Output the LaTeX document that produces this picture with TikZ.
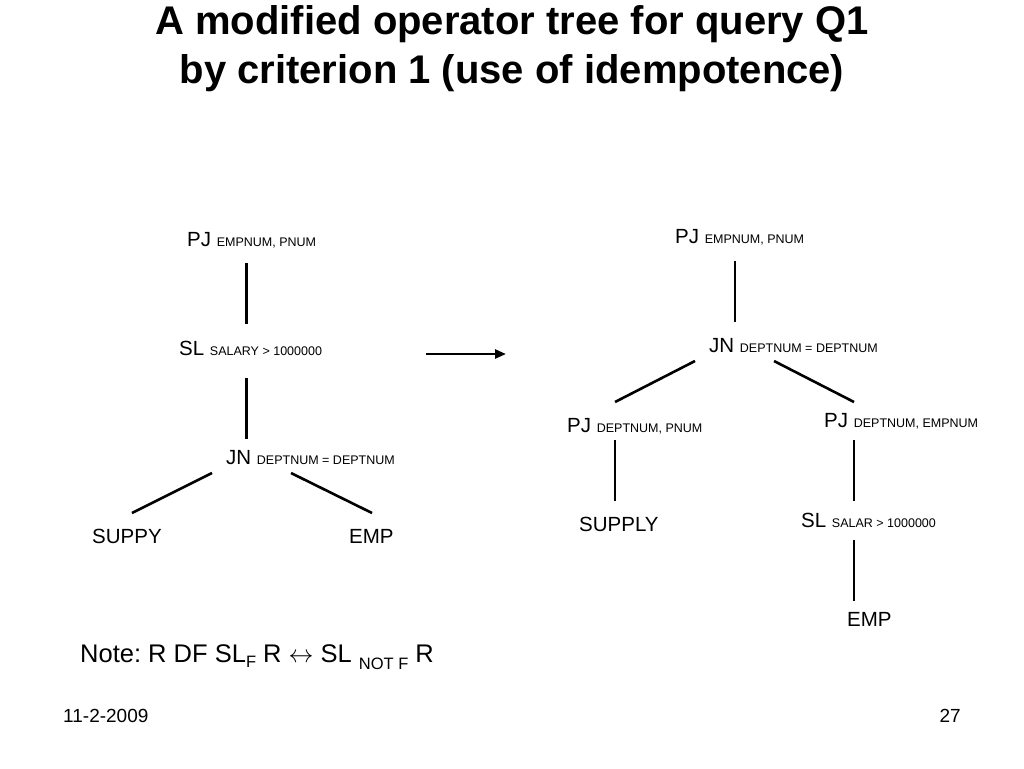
\documentclass[tikz,border=0pt]{standalone}
\usepackage{fontspec}
\setmainfont{Liberation Sans}
\usetikzlibrary{arrows.meta}
\newcommand{\myfs}[1]{\fontsize{#1}{#1}\selectfont}
\newcommand{\subt}[1]{{\myfs{12.5}#1}}
\frenchspacing
\begin{document}
\begin{tikzpicture}[x=1pt,y=-1pt,
  lbl/.style={anchor=base west,inner sep=0pt,font=\myfs{20.5}},
  ttl/.style={anchor=base,inner sep=0pt,font=\myfs{40}\bfseries},
  edge/.style={line width=2.6pt},
  foot/.style={inner sep=0pt,font=\myfs{19}}]
\useasboundingbox (0,0) rectangle (1024,768);
\fill[white] (0,0) rectangle (1024,768);
% title
\node[ttl] (t1) at (512,35) {A modified operator tree for query Q1};
\node[ttl] (t2) at (512,83) {by criterion 1 (use of idempotence)};
% left tree
\node[lbl] (pj1) at (187,246) {PJ \subt{EMPNUM, PNUM}};
\node[lbl] (sl1) at (179,355) {SL \subt{SALARY > 1000000}};
\node[lbl] (jn1) at (226,464) {JN \subt{DEPTNUM = DEPTNUM}};
\node[lbl] (sup1) at (92,543) {SUPPY};
\node[lbl] (emp1) at (349,543) {EMP};
\draw[edge] ([shift={(59.7,17)}]pj1.base west) -- ([shift={(67.7,-31)}]sl1.base west);
\draw[edge] ([shift={(67.7,23)}]sl1.base west) -- ([shift={(20.7,-25)}]jn1.base west);
\draw[edge] ([shift={(-14,9)}]jn1.base west) -- ([shift={(40,-30)}]sup1.base west);
\draw[edge] ([shift={(65,9)}]jn1.base west) -- ([shift={(23,-30)}]emp1.base west);
% arrow
\coordinate (arrowend) at (506,354);
\draw[line width=2.6pt,-{Triangle[length=11pt,width=9pt]}] ([shift={(247,-1)}]sl1.base west) -- (arrowend);
% right tree
\node[lbl] (pj2) at (675,243) {PJ \subt{EMPNUM, PNUM}};
\node[lbl] (jn2) at (709,352) {JN \subt{DEPTNUM = DEPTNUM}};
\node[lbl] (pj3) at (567,432) {PJ \subt{DEPTNUM, PNUM}};
\node[lbl] (pj4) at (824,427) {PJ \subt{DEPTNUM, EMPNUM}};
\node[lbl] (sup2) at (579,531) {SUPPLY};
\node[lbl] (sl2) at (801,527) {SL \subt{SALAR > 1000000}};
\node[lbl] (emp2) at (847,626) {EMP};
\draw[edge] ([shift={(60,18)}]pj2.base west) -- ([shift={(26,-30)}]jn2.base west);
\draw[edge] ([shift={(-14,9)}]jn2.base west) -- ([shift={(48,-30)}]pj3.base west);
\draw[edge] ([shift={(65,9)}]jn2.base west) -- ([shift={(30,-25)}]pj4.base west);
\draw[edge] ([shift={(48,8)}]pj3.base west) -- ([shift={(36,-30)}]sup2.base west);
\draw[edge] ([shift={(30,13)}]pj4.base west) -- ([shift={(53,-26)}]sl2.base west);
\draw[edge] ([shift={(53,13)}]sl2.base west) -- ([shift={(7,-25)}]emp2.base west);
% note
\node[anchor=base west,inner sep=0pt,font=\myfs{25.5}] (note) at (80,662)
  {Note: R DF SL\raisebox{-5pt}{\myfs{16.5}F} R $\leftrightarrow$ SL \raisebox{-7pt}{\myfs{16.5}NOT F} R};
% footer
\node[foot,anchor=base west] (date) at (63,722) {11-2-2009};
\node[foot,anchor=base east] (page) at (961,722) {27};
\end{tikzpicture}
\end{document}
